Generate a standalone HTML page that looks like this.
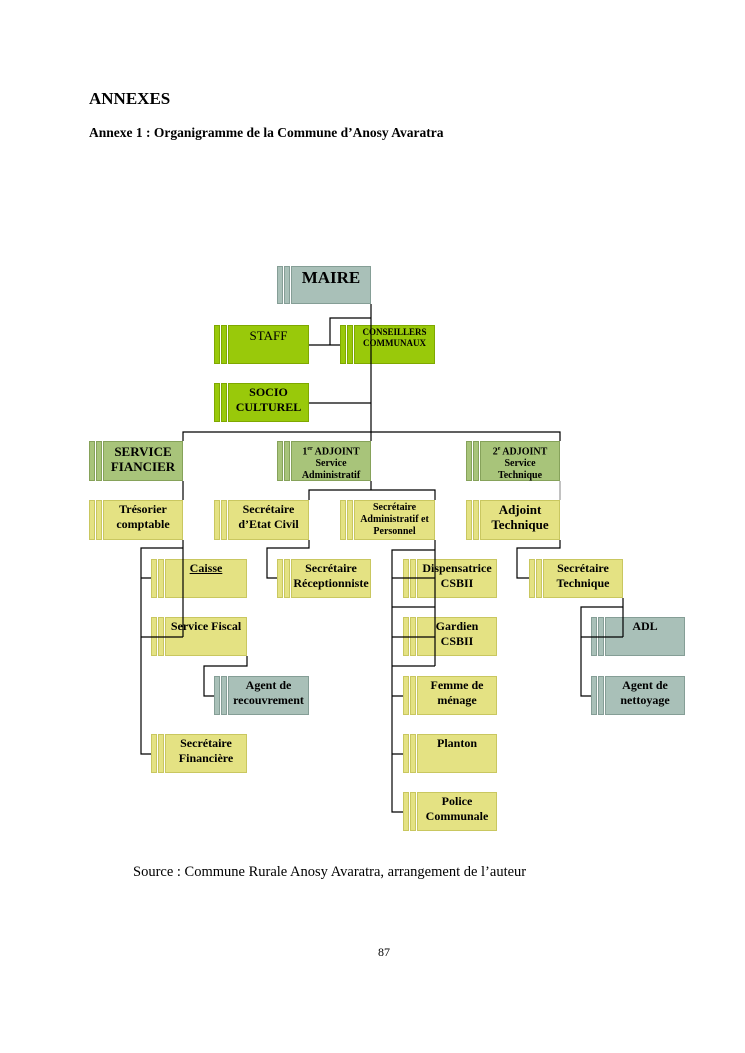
<!DOCTYPE html>
<html><head><meta charset="utf-8"><style>
body{margin:0;background:#fff}
.pg{position:relative;width:745px;height:1053px;overflow:hidden;font-family:"Liberation Serif",serif;color:#000}
.t{position:absolute;white-space:nowrap}
.b{position:absolute;height:39px}
.b::before,.b::after{content:"";position:absolute;top:0;bottom:0;width:4px;background:var(--c);border:1px solid var(--d)}
.b::before{left:0}.b::after{left:7px}
.m{position:absolute;left:14px;top:0;right:0;bottom:0;background:var(--c);border:1px solid var(--d);box-sizing:border-box;text-align:center;font-weight:bold;font-size:12px;line-height:15px;padding-top:1px}
.y{--c:#e4e283;--d:#c9c760}
.g{--c:#99c90a;--d:#7fa800}
.o{--c:#a8c47a;--d:#86a25a}
.k{--c:#a9c0b8;--d:#859e96}
</style></head><body><div class="pg">
<div class="t" style="left:89px;top:89px;font-size:17px;font-weight:bold">ANNEXES</div>
<div class="t" style="left:89px;top:125px;font-size:13.5px;font-weight:bold">Annexe 1 : Organigramme de la Commune d’Anosy Avaratra</div>

<div class="b k" style="left:277px;top:266px;width:94px;height:38px"><div class="m" style="font-size:17px;line-height:20px;padding-top:1px">MAIRE</div></div>
<div class="b g" style="left:214px;top:325px;width:95px"><div class="m" style="font-weight:normal;font-size:13px;padding-top:2px">STAFF</div></div>
<div class="b g" style="left:340px;top:325px;width:95px"><div class="m" style="font-size:9px;line-height:11px">CONSEILLERS<br>COMMUNAUX</div></div>
<div class="b g" style="left:214px;top:383px;width:95px"><div class="m">SOCIO<br>CULTUREL</div></div>
<div class="b o" style="left:89px;top:441px;width:94px;height:40px"><div class="m" style="font-size:13px;padding-top:2px">SERVICE<br>FIANCIER</div></div>
<div class="b o" style="left:277px;top:441px;width:94px;height:40px"><div class="m" style="font-size:10px;line-height:12px">1<sup style="font-size:6px">er</sup> ADJOINT<br>Service<br>Administratif</div></div>
<div class="b o" style="left:466px;top:441px;width:94px;height:40px"><div class="m" style="font-size:10px;line-height:12px">2<sup style="font-size:6px">e</sup> ADJOINT<br>Service<br>Technique</div></div>
<div class="b y" style="left:89px;top:500px;width:94px;height:40px"><div class="m">Trésorier<br>comptable</div></div>
<div class="b y" style="left:214px;top:500px;width:95px;height:40px"><div class="m">Secrétaire<br>d’Etat Civil</div></div>
<div class="b y" style="left:340px;top:500px;width:95px;height:40px"><div class="m" style="font-size:10px;line-height:12px;white-space:nowrap;overflow:visible">Secrétaire<br>Administratif et<br>Personnel</div></div>
<div class="b y" style="left:466px;top:500px;width:94px;height:40px"><div class="m" style="font-size:13px">Adjoint<br>Technique</div></div>
<div class="b y" style="left:151px;top:559px;width:96px"><div class="m"><u>Caisse</u></div></div>
<div class="b y" style="left:277px;top:559px;width:94px"><div class="m">Secrétaire<br>Réceptionniste</div></div>
<div class="b y" style="left:403px;top:559px;width:94px"><div class="m">Dispensatrice<br>CSBII</div></div>
<div class="b y" style="left:529px;top:559px;width:94px"><div class="m">Secrétaire<br>Technique</div></div>
<div class="b y" style="left:151px;top:617px;width:96px"><div class="m">Service Fiscal</div></div>
<div class="b y" style="left:403px;top:617px;width:94px"><div class="m">Gardien<br>CSBII</div></div>
<div class="b k" style="left:591px;top:617px;width:94px"><div class="m">ADL</div></div>
<div class="b k" style="left:214px;top:676px;width:95px"><div class="m">Agent de<br>recouvrement</div></div>
<div class="b y" style="left:403px;top:676px;width:94px"><div class="m">Femme de<br>ménage</div></div>
<div class="b k" style="left:591px;top:676px;width:94px"><div class="m">Agent de<br>nettoyage</div></div>
<div class="b y" style="left:151px;top:734px;width:96px"><div class="m">Secrétaire<br>Financière</div></div>
<div class="b y" style="left:403px;top:734px;width:94px"><div class="m">Planton</div></div>
<div class="b y" style="left:403px;top:792px;width:94px"><div class="m">Police<br>Communale</div></div>

<svg width="745" height="1053" style="position:absolute;left:0;top:0" fill="none" stroke="#000" stroke-width="1.2">
<path d="M371 304V432M371 318H330V345H309M330 345H340M309 403H371M183 441V432H560V441M371 432V441"/>
<path d="M183 481V500M183 540V637M183 548H141V754H151M141 578H151M141 637H183"/>
<path d="M247 656V666H204V696H214"/>
<path d="M371 481V490H309V500M371 490H435V500"/>
<path d="M309 540V548H267V578H277"/>
<path d="M435 540V666M435 550H392V812H403M392 578H435M392 607H435M392 637H435M392 666H435M392 696H403M392 754H403"/>
<path d="M560 540V548H517V578H529"/>
<path d="M623 598V637M623 607H581V696H591M581 637H623"/>
<path d="M560 481V500" stroke="#999"/>
</svg>

<div class="t" style="left:133px;top:864px;font-size:14.5px">Source : Commune Rurale Anosy Avaratra, arrangement de l’auteur</div>
<div class="t" style="left:378px;top:945px;font-size:12px">87</div>
</div></body></html>
